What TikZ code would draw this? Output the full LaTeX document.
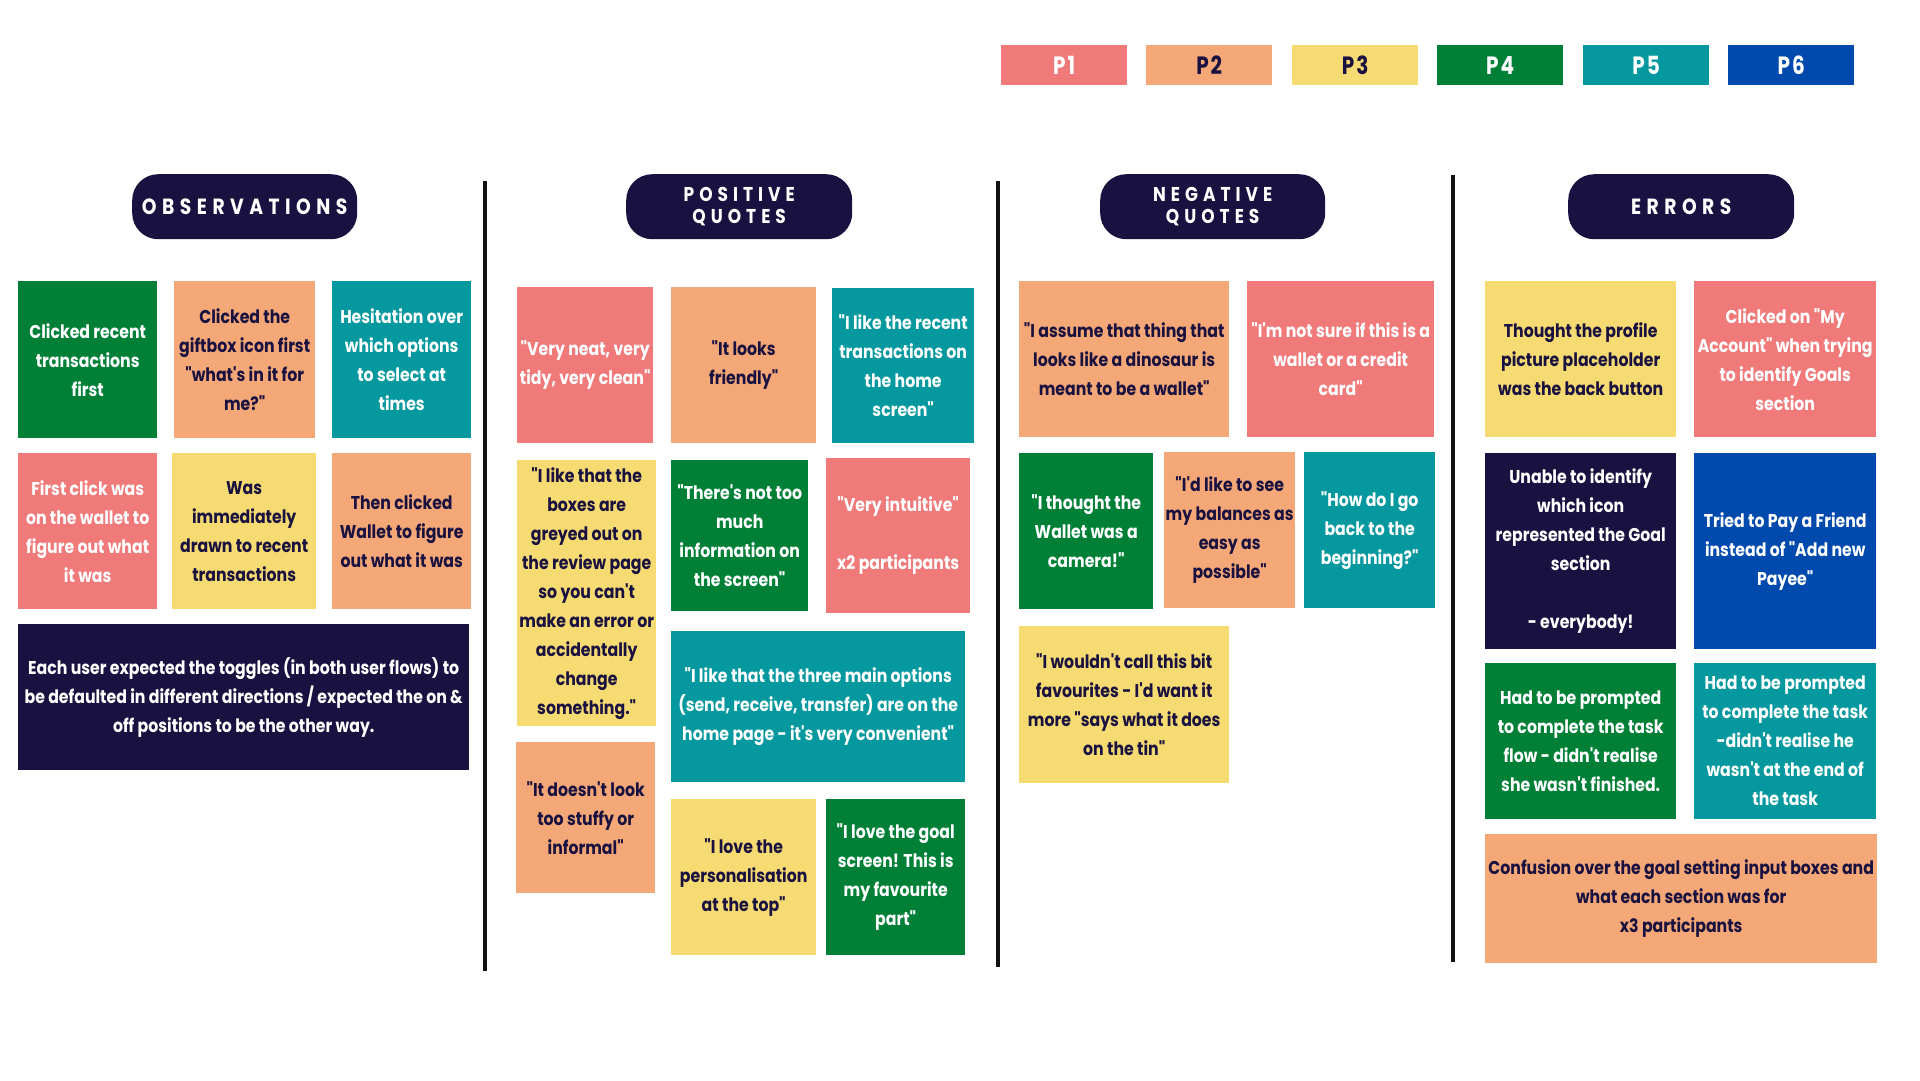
\documentclass[tikz,border=0pt]{standalone}
\usepackage{fontspec}
\newfontfamily\boxfont{Poppins}[FakeStretch=0.85]
\newfontfamily\headfont{Poppins}[FakeStretch=0.85,LetterSpace=25]
\newfontfamily\legfont{Poppins}[FakeStretch=0.8,LetterSpace=8]
\definecolor{cpink}{HTML}{F07A7A}
\definecolor{corange}{HTML}{F5A877}
\definecolor{cyellow}{HTML}{F6DA72}
\definecolor{cgreen}{HTML}{008037}
\definecolor{cteal}{HTML}{05989E}
\definecolor{cblue}{HTML}{004AAD}
\definecolor{cnavy}{HTML}{191140}
\definecolor{cline}{HTML}{111111}
\tikzset{
  card/.style={inner sep=0pt, align=center, font=\boxfont\bfseries\fontsize{18.5}{29}\selectfont},
  pinkc/.style={fill=cpink, text=white},
  orangec/.style={fill=corange, text=cnavy},
  yellowc/.style={fill=cyellow, text=cnavy},
  greenc/.style={fill=cgreen, text=white},
  tealc/.style={fill=cteal, text=white},
  navyc/.style={fill=cnavy, text=white},
  bluec/.style={fill=cblue, text=white},
  pill/.style={fill=cnavy, rounded corners=26pt, text=white, inner sep=0pt, align=center,
    font=\headfont\bfseries\fontsize{20}{22}\selectfont},
  pillone/.style={font=\headfont\bfseries\fontsize{22}{22}\selectfont},
  divider/.style={line width=3.5pt, draw=cline},
  legendbox/.style={inner sep=0pt, minimum width=126pt, minimum height=40pt, anchor=north west,
    font=\legfont\bfseries\fontsize{25}{25}\selectfont},
}
\newcommand\card[7]{\node[card,#6,minimum width={#4-#2},minimum height={#5-#3},anchor=north west] (#1) at (#2,#3) {#7};}
\newcommand\pillbox[7]{\node[pill,#6,minimum width={#4-#2},minimum height={#5-#3},anchor=north west] (#1) at (#2,#3) {#7};}
\begin{document}
\begin{tikzpicture}[x=1pt,y=-1pt]
\fill[white] (0,0) rectangle (1920,1080);
\useasboundingbox (0,0) rectangle (1920,1080);

% legend
\node[legendbox,fill=cpink,text=white] (p1) at (1001,45) {P1};
\node[legendbox,fill=corange,text=cnavy] (p2) at (1146,45) {P2};
\node[legendbox,fill=cyellow,text=cnavy] (p3) at (1292,45) {P3};
\node[legendbox,fill=cgreen,text=white] (p4) at (1437,45) {P4};
\node[legendbox,fill=cteal,text=white] (p5) at (1583,45) {P5};
\node[legendbox,fill=cblue,text=white] (p6) at (1728,45) {P6};

% headers
\pillbox{hobs}{132}{174}{357}{239}{pillone}{OBSERVATIONS}
\pillbox{hpos}{626}{174}{852}{239}{}{POSITIVE\\QUOTES}
\pillbox{hneg}{1100}{174}{1325}{239}{}{NEGATIVE\\QUOTES}
\pillbox{herr}{1568}{174}{1794}{239}{pillone}{ERRORS}

% dividers
\coordinate (d1t) at (485,181); \coordinate (d1b) at (485,971);
\coordinate (d2t) at (998,181); \coordinate (d2b) at (998,967);
\coordinate (d3t) at (1453,175); \coordinate (d3b) at (1453,962);
\draw[divider] (d1t) -- (d1b);
\draw[divider] (d2t) -- (d2b);
\draw[divider] (d3t) -- (d3b);

% observations
\card{o1}{18}{281}{157}{438}{greenc}{Clicked recent\\transactions\\first}
\card{o2}{174}{281}{315}{438}{orangec}{Clicked the\\giftbox icon first\\"what's in it for\\me?"}
\card{o3}{332}{281}{471}{438}{tealc}{Hesitation over\\which options\\to select at\\times}
\card{o4}{18}{453}{157}{609}{pinkc}{First click was\\on the wallet to\\figure out what\\it was}
\card{o5}{172}{453}{316}{609}{yellowc}{Was\\immediately\\drawn to recent\\transactions}
\card{o6}{332}{453}{471}{609}{orangec}{Then clicked\\Wallet to figure\\out what it was}
\card{o7}{18}{624}{469}{770}{navyc}{Each user expected the toggles (in both user flows) to\\be defaulted in different directions / expected the on \&\\off positions to be the other way.}

% positive quotes
\card{q1}{517}{287}{653}{443}{pinkc}{"Very neat, very\\tidy, very clean"}
\card{q2}{671}{287}{816}{443}{orangec}{"It looks\\friendly"}
\card{q3}{832}{288}{974}{443}{tealc}{"I like the recent\\transactions on\\the home\\screen"}
\card{q4}{517}{460}{656}{726}{yellowc}{"I like that the\\boxes are\\greyed out on\\the review page\\so you can't\\make an error or\\accidentally\\change\\something."}
\card{q5}{671}{460}{808}{611}{greenc}{"There's not too\\much\\information on\\the screen"}
\card{q6}{826}{458}{970}{613}{pinkc}{"Very intuitive"\\[29pt]x2 participants}
\card{q7}{671}{631}{965}{782}{tealc}{"I like that the three main options\\(send, receive, transfer) are on the\\home page - it's very convenient"}
\card{q8}{516}{742}{655}{893}{orangec}{"It doesn't look\\too stuffy or\\informal"}
\card{q9}{671}{799}{816}{955}{yellowc}{"I love the\\personalisation\\at the top"}
\card{q10}{826}{799}{965}{955}{greenc}{"I love the goal\\screen! This is\\my favourite\\part"}

% negative quotes
\card{n1}{1019}{281}{1229}{437}{orangec}{"I assume that thing that\\looks like a dinosaur is\\meant to be a wallet"}
\card{n2}{1247}{281}{1434}{437}{pinkc}{"I'm not sure if this is a\\wallet or a credit\\card"}
\card{n3}{1019}{453}{1153}{609}{greenc}{"I thought the\\Wallet was a\\camera!"}
\card{n4}{1164}{452}{1295}{608}{orangec}{"I'd like to see\\my balances as\\easy as\\possible"}
\card{n5}{1304}{452}{1435}{608}{tealc}{"How do I go\\back to the\\beginning?"}
\card{n6}{1019}{626}{1229}{783}{yellowc}{"I wouldn't call this bit\\favourites - I'd want it\\more "says what it does\\on the tin"}

% errors
\card{e1}{1485}{281}{1676}{437}{yellowc}{Thought the profile\\picture placeholder\\was the back button}
\card{e2}{1694}{281}{1876}{437}{pinkc}{Clicked on "My\\Account" when trying\\to identify Goals\\section}
\card{e3}{1485}{453}{1676}{649}{navyc}{Unable to identify\\which icon\\represented the Goal\\section\\[29pt]- everybody!}
\card{e4}{1694}{453}{1876}{649}{bluec}{Tried to Pay a Friend\\instead of "Add new\\Payee"}
\card{e5}{1485}{663}{1676}{819}{greenc}{Had to be prompted\\to complete the task\\flow - didn't realise\\she wasn't finished.}
\card{e6}{1694}{663}{1876}{819}{tealc}{Had to be prompted\\to complete the task\\-didn't realise he\\wasn't at the end of\\the task}
\card{e7}{1485}{834}{1877}{963}{orangec}{Confusion over the goal setting input boxes and\\what each section was for\\x3 participants}
\end{tikzpicture}
\end{document}
